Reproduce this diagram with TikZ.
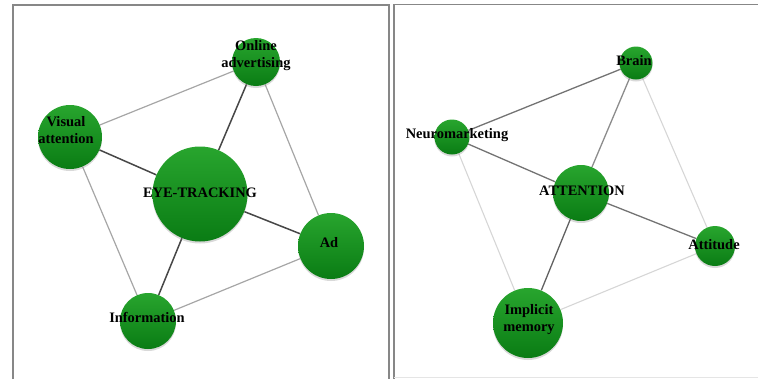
\documentclass[tikz,border=0pt]{standalone}
\usepackage{fontspec}
\setmainfont{Liberation Serif}
\usetikzlibrary{shadows,backgrounds}
\definecolor{balltop}{RGB}{40,165,46}
\definecolor{ballmid}{RGB}{18,145,28}
\definecolor{ballbot}{RGB}{10,124,20}
\definecolor{framegray}{RGB}{135,135,135}

\begin{document}
\begin{tikzpicture}[x=1bp,y=-1bp,
  ball/.style={circle,inner sep=0pt,minimum size=#1,top color=balltop,middle color=ballmid,bottom color=ballbot,
    drop shadow={opacity=0.3,shadow xshift=0bp,shadow yshift=-2bp}},
  lbl/.style={align=center,inner sep=0pt,font=\bfseries\fontsize{14.5}{17}\selectfont},
  dark/.style={draw=black!72,line width=1.5bp},
  mid/.style={draw=black!55,line width=1.3bp},
  pale/.style={draw=black!35,line width=1.2bp},
  faint/.style={draw=black!16,line width=1.1bp}]

  \useasboundingbox (0,0) rectangle (758,379);

  % Left panel: eye-tracking cluster
  \node[ball=48bp] (online) at (256,62) {};
  \node[ball=64bp] (visual) at (70,137) {};
  \node[ball=95bp] (eye) at (200,194) {};
  \node[ball=66bp] (ad) at (331,246) {};
  \node[ball=56bp] (info) at (148,321) {};

  \node[lbl] (onlineT) at (256,56) {Online\\advertising};
  \node[lbl] (visualT) at (66,130) {Visual\\attention};
  \node[lbl] (eyeT) at (200,193) {EYE-TRACKING};
  \node[lbl] (adT) at (329,243) {Ad};
  \node[lbl] (infoT) at (147,317) {Information};

  % Right panel: attention cluster
  \node[ball=33bp] (brain) at (636,63) {};
  \node[ball=35bp] (neuro) at (452,137) {};
  \node[ball=56bp] (attn) at (581,193) {};
  \node[ball=40bp] (attit) at (715,246) {};
  \node[ball=70bp] (implicit) at (528,323) {};

  \node[lbl] (brainT) at (634,61) {Brain};
  \node[lbl] (neuroT) at (457,135) {Neuromarketing};
  \node[lbl] (attnT) at (582,191) {ATTENTION};
  \node[lbl] (attitT) at (714,245) {Attitude};
  \node[lbl] (implicitT) at (529,320) {Implicit\\memory};

  \begin{scope}[on background layer]
    % frames
    \draw[framegray,line width=1.5bp] (13,379) -- (13,5) -- (389,5) -- (389,379);
    \draw[framegray,line width=1.5bp] (758,4.5) -- (394,4.5) -- (394,379);
    \draw[black!10,line width=1bp] (394,377) -- (758,377);

    \draw[pale] (online) -- (visual);
    \draw[dark] (online) -- (eye);
    \draw[pale] (online) -- (ad);
    \draw[dark] (visual) -- (eye);
    \draw[pale] (visual) -- (info);
    \draw[dark] (eye) -- (ad);
    \draw[dark] (eye) -- (info);
    \draw[pale] (ad) -- (info);

    \draw[mid] (brain) -- (neuro);
    \draw[mid,draw=black!45] (brain) -- (attn);
    \draw[faint] (brain) -- (attit);
    \draw[mid] (neuro) -- (attn);
    \draw[faint] (neuro) -- (implicit);
    \draw[mid] (attn) -- (attit);
    \draw[mid,draw=black!62] (attn) -- (implicit);
    \draw[faint] (attit) -- (implicit);
  \end{scope}
\end{tikzpicture}
\end{document}
